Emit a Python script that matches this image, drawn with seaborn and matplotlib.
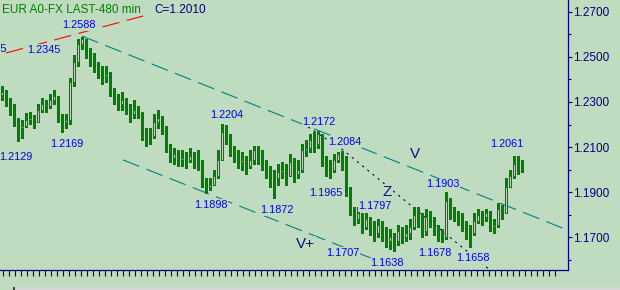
import numpy as np
import pandas as pd
import matplotlib
matplotlib.use("Agg")
import matplotlib.pyplot as plt
from matplotlib.patches import Rectangle
import seaborn as sns

# ---------------- data (EUR/USD, 480-min bars) ----------------
first_open = 1.2330
closes = [
    1.2345, 1.2309, 1.2274, 1.2220, 1.2184, 1.2193, 1.2220, 1.2229, 1.2211, 1.2265,
    1.2291, 1.2283, 1.2309, 1.2327, 1.2238, 1.2211, 1.2220, 1.2390, 1.2479, 1.2559,
    1.2577, 1.2524, 1.2497, 1.2470, 1.2443, 1.2416, 1.2425, 1.2354, 1.2318, 1.2291,
    1.2309, 1.2274, 1.2247, 1.2265, 1.2256, 1.2166, 1.2158, 1.2149, 1.2211, 1.2229,
    1.2193, 1.2104, 1.2050, 1.2068, 1.2041, 1.2050, 1.2041, 1.2059, 1.2041, 1.2033,
    1.1952, 1.1925, 1.1934, 1.1970, 1.2041, 1.2166, 1.2149, 1.2095, 1.2059, 1.2033,
    1.2041, 1.2015, 1.2041, 1.2086, 1.2059, 1.2024, 1.1997, 1.1970, 1.1961, 1.1988,
    1.1997, 1.1970, 1.2033, 1.1979, 1.1997, 1.2086, 1.2095, 1.2131, 1.2113, 1.2158,
    1.2041, 1.2006, 1.1997, 1.2041, 1.2068, 1.2059, 1.1908, 1.1818, 1.1783, 1.1809,
    1.1747, 1.1783, 1.1747, 1.1720, 1.1756, 1.1729, 1.1684, 1.1702, 1.1684, 1.1729,
    1.1702, 1.1720, 1.1747, 1.1800, 1.1783, 1.1729, 1.1792, 1.1783, 1.1747, 1.1711,
    1.1702, 1.1863, 1.1809, 1.1800, 1.1792, 1.1756, 1.1729, 1.1720, 1.1774, 1.1800,
    1.1792, 1.1809, 1.1747, 1.1756, 1.1827, 1.1809, 1.1925, 1.1970, 1.2024, 1.2006,
    1.2010,
]
highs = [
    1.2372, 1.2354, 1.2318, 1.2291, 1.2229, 1.2220, 1.2251, 1.2256, 1.2242, 1.2291,
    1.2318, 1.2309, 1.2336, 1.2354, 1.2327, 1.2247, 1.2247, 1.2408, 1.2506, 1.2577,
    1.2588, 1.2577, 1.2541, 1.2515, 1.2479, 1.2461, 1.2461, 1.2434, 1.2363, 1.2336,
    1.2345, 1.2318, 1.2291, 1.2309, 1.2283, 1.2193, 1.2184, 1.2184, 1.2247, 1.2265,
    1.2238, 1.2193, 1.2113, 1.2095, 1.2086, 1.2086, 1.2077, 1.2095, 1.2077, 1.2086,
    1.2041, 1.1961, 1.1961, 1.1997, 1.2086, 1.2204, 1.2198, 1.2158, 1.2104, 1.2086,
    1.2077, 1.2059, 1.2086, 1.2104, 1.2104, 1.2086, 1.2041, 1.2015, 1.1997, 1.2024,
    1.2033, 1.2024, 1.2068, 1.2050, 1.2041, 1.2113, 1.2131, 1.2158, 1.2166, 1.2172,
    1.2140, 1.2059, 1.2041, 1.2068, 1.2077, 1.2084, 1.2041, 1.1925, 1.1836, 1.1836,
    1.1800, 1.1809, 1.1792, 1.1774, 1.1783, 1.1774, 1.1747, 1.1738, 1.1720, 1.1756,
    1.1747, 1.1756, 1.1783, 1.1836, 1.1836, 1.1809, 1.1827, 1.1818, 1.1792, 1.1756,
    1.1738, 1.1903, 1.1872, 1.1836, 1.1818, 1.1809, 1.1774, 1.1756, 1.1809, 1.1827,
    1.1818, 1.1827, 1.1818, 1.1783, 1.1854, 1.1845, 1.1961, 1.1997, 1.2059, 1.2061,
    1.2041,
]
lows = [
    1.2309, 1.2283, 1.2242, 1.2193, 1.2129, 1.2140, 1.2189, 1.2202, 1.2184, 1.2211,
    1.2256, 1.2256, 1.2274, 1.2291, 1.2211, 1.2169, 1.2184, 1.2202, 1.2372, 1.2461,
    1.2533, 1.2497, 1.2461, 1.2434, 1.2408, 1.2381, 1.2390, 1.2327, 1.2291, 1.2265,
    1.2265, 1.2247, 1.2211, 1.2229, 1.2229, 1.2131, 1.2104, 1.2113, 1.2140, 1.2184,
    1.2158, 1.2077, 1.2033, 1.2024, 1.2015, 1.2015, 1.2006, 1.2033, 1.2006, 1.1997,
    1.1925, 1.1898, 1.1908, 1.1934, 1.1961, 1.2041, 1.2113, 1.2059, 1.2033, 1.2006,
    1.1997, 1.1979, 1.2006, 1.2024, 1.2024, 1.1997, 1.1961, 1.1925, 1.1872, 1.1934,
    1.1961, 1.1934, 1.1979, 1.1943, 1.1961, 1.1988, 1.2059, 1.2077, 1.2077, 1.2095,
    1.2015, 1.1970, 1.1965, 1.1988, 1.2033, 1.1997, 1.1881, 1.1800, 1.1756, 1.1765,
    1.1720, 1.1738, 1.1711, 1.1684, 1.1702, 1.1684, 1.1658, 1.1649, 1.1638, 1.1667,
    1.1675, 1.1684, 1.1693, 1.1738, 1.1747, 1.1702, 1.1711, 1.1747, 1.1711, 1.1684,
    1.1678, 1.1693, 1.1783, 1.1774, 1.1756, 1.1729, 1.1693, 1.1658, 1.1711, 1.1765,
    1.1756, 1.1774, 1.1729, 1.1720, 1.1747, 1.1783, 1.1809, 1.1925, 1.1961, 1.1979,
    1.1988,
]

# trend lines (bar index, price)
red_line_x = [1.0, 35.25]
red_line_y = [1.2517, 1.2681]
upper_line_x = [20.0, 141.4]
upper_line_y = [1.2592, 1.1732]
lower_line_x = [30.25, 92.5]
lower_line_y = [1.2043, 1.1606]
z_line_x = [76.5, 85.25, 122.0]
z_line_y = [1.2189, 1.2087, 1.1555]

# price annotations
num_labels = ["1.2588", "1.2345", "1.2129", "1.2169", "1.2204", "1.1898",
              "1.1872", "1.2172", "1.2084", "1.2061", "1.1965", "1.1903",
              "1.1797", "1.1707", "1.1638", "1.1678", "1.1658"]
num_label_x = [19.25, 10.375, 3.5, 16.125, 56.25, 52.25,
               68.75, 79.25, 85.625, 126.2, 81.0, 110.25,
               93.2, 85.1, 96.2, 108.25, 117.75]
num_label_y = [1.2628, 1.2517, 1.2043, 1.2102, 1.2228, 1.1831,
               1.1806, 1.2200, 1.2109, 1.2099, 1.1882, 1.1921,
               1.1825, 1.1617, 1.1571, 1.1618, 1.1595]
edge_label = "1.2515"
edge_label_pos = (1.125, 1.2521)

wave_labels = ["V", "V+", "Z"]
wave_label_x = [103.25, 75.9, 96.4]
wave_label_y = [1.2050, 1.1653, 1.1883]

title_text = "EUR A0-FX LAST-480 min"
last_text = "C=1.2010"

y_major = [1.17, 1.19, 1.21, 1.23, 1.25, 1.27]
y_minor = [1.16, 1.18, 1.20, 1.22, 1.24, 1.26]

# ---------------- style ----------------
BG = "#C0DCC0"
GREEN = "#008000"
NAVY = "#000080"
BLUE = "#0000EE"
TEAL = "#008080"
RED = "#FF0000"

sns.set_theme(style="white", rc={"axes.facecolor": BG, "figure.facecolor": BG})
plt.rcParams["font.family"] = ["Liberation Sans", "DejaVu Sans"]
plt.rcParams["lines.scale_dashes"] = False

fig = plt.figure(figsize=(6.2, 2.9), dpi=100, facecolor=BG)
ax = fig.add_axes([0, 20 / 290, 567.7 / 620, 270 / 290])
ax.set_facecolor(BG)

n = len(closes)
df = pd.DataFrame({
    "i": np.arange(n),
    "open": [first_open] + closes[:-1],
    "close": closes,
    "high": highs,
    "low": lows,
})
up = df["close"] >= df["open"]
bottom = np.minimum(df["open"], df["close"])
height = np.maximum((df["close"] - df["open"]).abs(), 0.00004)

ax.vlines(df["i"], df["low"], df["high"], color=GREEN, lw=0.8, zorder=3,
          antialiased=False)
ax.bar(df["i"], height, bottom=bottom, width=0.52,
       color=np.where(up, BG, GREEN), edgecolor=GREEN, linewidth=0.75, zorder=4)

dash = (0, (12.5, 5.5))
sns.lineplot(x=red_line_x, y=red_line_y, ax=ax, color=RED, lw=0.8,
             linestyle=dash, zorder=2, sort=False)
sns.lineplot(x=upper_line_x, y=upper_line_y, ax=ax, color=TEAL, lw=0.8,
             linestyle=dash, zorder=2, sort=False)
sns.lineplot(x=lower_line_x, y=lower_line_y, ax=ax, color=TEAL, lw=0.8,
             linestyle=dash, zorder=2, sort=False)
sns.lineplot(x=z_line_x, y=z_line_y, ax=ax, color="#000060", lw=0.8,
             linestyle=(0, (1.6, 3.2)), zorder=2, sort=False)

box = dict(boxstyle="square,pad=0.05", fc=BG, ec="none")
for s, x, y in zip(num_labels, num_label_x, num_label_y):
    ax.text(x, y, s, ha="center", va="baseline", color=BLUE, fontsize=7.8,
            bbox=box, zorder=6)
ax.text(edge_label_pos[0], edge_label_pos[1], edge_label, ha="right",
        va="baseline", color=BLUE, fontsize=7.8, zorder=6)
for s, x, y in zip(wave_labels, wave_label_x, wave_label_y):
    ax.text(x, y, s, ha="center", va="baseline", color="#10107A", fontsize=11,
            bbox=box, zorder=6)

fig.text(1.7 / 620, 1 - 12.7 / 290, title_text, ha="left", va="baseline",
         color=GREEN, fontsize=8.5)
fig.text(154 / 620, 1 - 12.7 / 290, last_text, ha="left", va="baseline",
         color=NAVY, fontsize=8.5)

ax.set_xlim(-0.5, (567.7 - 2) / 4)
ax.set_ylim(1.1555, 1.2752)

ax.yaxis.tick_right()
ax.set_yticks(y_major)
ax.set_yticklabels([f"{v:.4f}" for v in y_major])
ax.set_yticks(y_minor, minor=True)
ax.tick_params(axis="y", which="major", length=2.9, width=0.8, colors=NAVY,
               pad=0.6, labelsize=8.5, direction="out", right=True, left=False)
ax.tick_params(axis="y", which="minor", length=1.8, width=0.8, colors=NAVY,
               direction="out", right=True, left=False)
ax.set_xticks(np.arange(0.33, 139.0, 1.5))
ax.tick_params(axis="x", which="major", length=4.3, width=0.8, colors=NAVY,
               direction="out", bottom=True, labelbottom=False)

for side in ["left", "top"]:
    ax.spines[side].set_visible(False)
for side in ["right", "bottom"]:
    ax.spines[side].set_visible(True)
    ax.spines[side].set_color(NAVY)
    ax.spines[side].set_linewidth(0.9)
ax.grid(False)

fig.patches.append(Rectangle((15 / 620, 0), 605 / 620, 2.6 / 290,
                             transform=fig.transFigure, facecolor="#d6d6d6",
                             edgecolor="none"))
fig.patches.append(Rectangle((13 / 620, 0), 2 / 620, 2.6 / 290,
                             transform=fig.transFigure, facecolor="#404040",
                             edgecolor="none"))

fig.savefig("out.png", dpi=100, facecolor=BG)
